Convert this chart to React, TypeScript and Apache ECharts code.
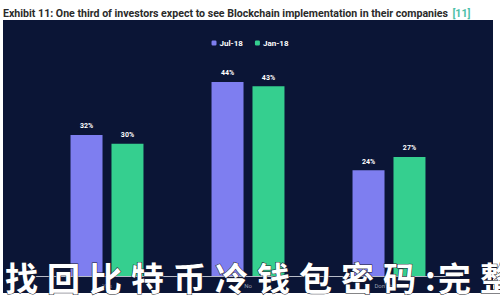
import React, { useEffect, useRef } from "react";
import * as echarts from "echarts";

const categories = ["Yes", "No", "Don't know"];
const jul18 = [32, 44, 24];
const jan18 = [30, 43, 27];
const seriesNames = ["Jul-18", "Jan-18"];
const titleText = "Exhibit 11: One third of investors expect to see Blockchain implementation in their companies";
const titleRef = "[11]";
const overlayChars = ["找", "回", "比", "特", "币", "冷", "钱", "包", "密", "码", ":", "完", "整"];

export default function App() {
  const ref = useRef<HTMLDivElement>(null);
  useEffect(() => {
    if (!ref.current) return;
    const chart = echarts.init(ref.current, null, { renderer: "svg" });
    const overlay: any[] = [];
    let x = 5;
    overlayChars.forEach((c) => {
      const narrow = c === ":";
      overlay.push({
        type: "text",
        x: x,
        y: 277,
        z: 100,
        style: {
          text: c,
          fill: "#ffffff",
          font: "bold 33px 'Noto Sans CJK SC'",
          verticalAlign: "middle",
          textAlign: "left",
          stroke: "#1a1a2a",
          lineWidth: 1,
          shadowColor: "rgba(0,0,0,0.8)",
          shadowBlur: 3,
        },
      });
      x += narrow ? 13 : 42;
    });
    chart.setOption({
      animation: false,
      backgroundColor: "#ffffff",
      textStyle: { fontFamily: "Roboto" },
      title: {
        text: "{a|" + titleText + "} {b|" + titleRef + "}",
        left: 3,
        top: 4,
        padding: 0,
        textStyle: {
          rich: {
            a: { fontFamily: "Roboto", fontWeight: "bold", fontSize: 10.6, color: "#2a2a2a" },
            b: { fontFamily: "Roboto", fontSize: 10.6, color: "#4cc0a8" },
          },
        },
      },
      graphic: [
        {
          type: "rect",
          shape: { x: 3, y: 20, width: 490, height: 273 },
          style: { fill: "#0b1536" },
          z: -10,
        },
        ...overlay,
      ],
      legend: {
        data: seriesNames,
        top: 34,
        left: "center",
        itemWidth: 5,
        itemHeight: 5,
        itemGap: 12,
        icon: "roundRect",
        textStyle: { color: "#ffffff", fontSize: 8, fontWeight: "bold", padding: [0, 0, 0, -2] },
      },
      grid: { left: 36.5, right: 40.5, top: 55.5, bottom: 24 },
      xAxis: {
        type: "category",
        data: categories,
        axisLine: { lineStyle: { color: "#b8bcc8", width: 1 } },
        axisTick: { show: false },
        axisLabel: { color: "#9aa0b0", fontSize: 6, margin: 6 },
      },
      yAxis: {
        type: "value",
        min: 0,
        max: 50,
        show: false,
        splitLine: { show: false },
      },
      series: [
        {
          name: seriesNames[0],
          type: "bar",
          data: jul18,
          barWidth: 32,
          barGap: "28%",
          itemStyle: { color: "#7e7ef0" },
          label: { show: true, position: "top", formatter: "{c}%", color: "#ffffff", fontSize: 7, fontWeight: "bold", distance: 5 },
        },
        {
          name: seriesNames[1],
          type: "bar",
          data: jan18,
          barWidth: 32,
          itemStyle: { color: "#35cf8f" },
          label: { show: true, position: "top", formatter: "{c}%", color: "#ffffff", fontSize: 7, fontWeight: "bold", distance: 5 },
        },
      ],
    });
    return () => chart.dispose();
  }, []);
  return <div ref={ref} style={{ position: "fixed", left: 0, top: 0, width: 500, height: 300 }} />;
}
